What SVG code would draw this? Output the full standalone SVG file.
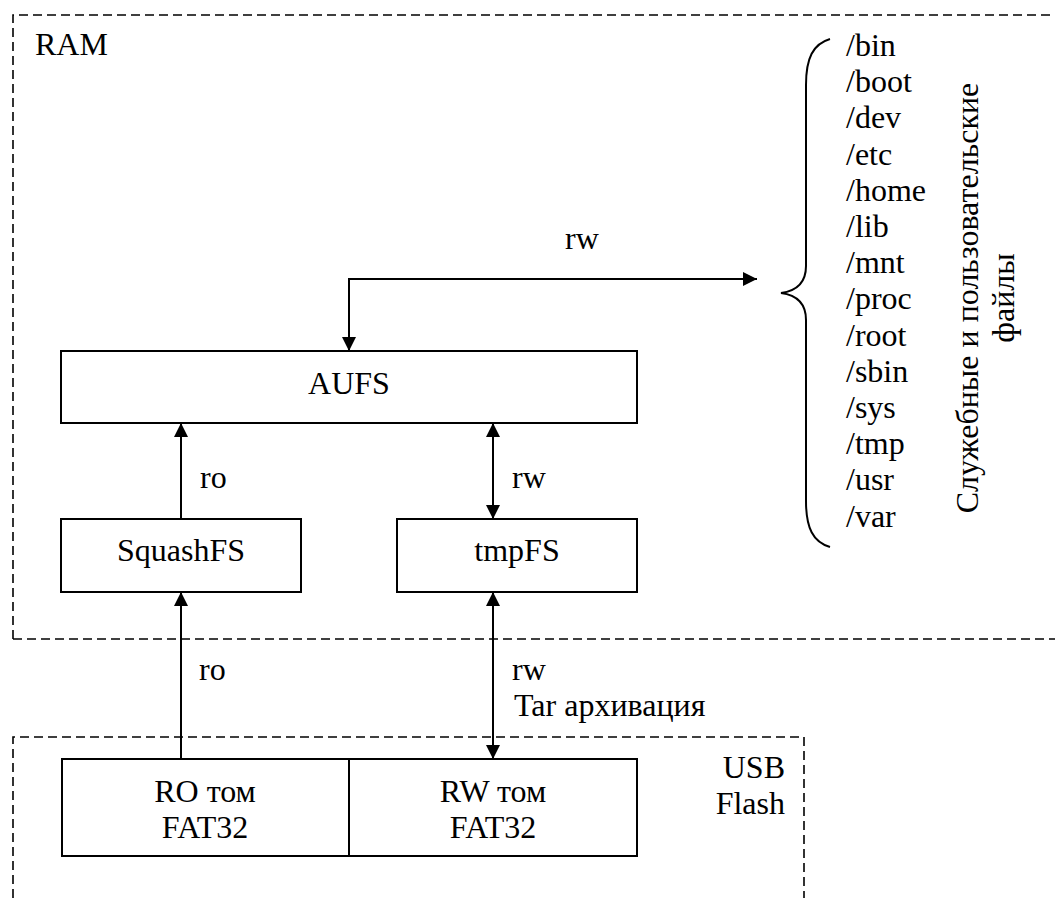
<svg xmlns="http://www.w3.org/2000/svg" width="1055" height="898" viewBox="0 0 1055 898">
<style>
text{font-family:"Liberation Serif","Times New Roman",serif;font-size:32px;fill:#000}
.c{text-anchor:middle}
.r{text-anchor:end}
.box{fill:#fff;stroke:#000;stroke-width:2}
.dash{fill:none;stroke:#000;stroke-width:1.6;stroke-dasharray:9 5}
.ln{fill:none;stroke:#000;stroke-width:2}
</style>
<defs>
<marker id="ah" viewBox="0 0 14 14" refX="14" refY="7" markerWidth="14" markerHeight="14" markerUnits="userSpaceOnUse" orient="auto-start-reverse">
<path d="M0,0 L14,7 L0,14 Z" fill="#000"/>
</marker>
</defs>
<rect width="1055" height="898" fill="#fff"/>
<g id="ram">
<path class="dash" d="M13,639 V15 H1055"/>
<path class="dash" d="M13,639 H1055"/>
<text x="35" y="55">RAM</text>
</g>
<g id="usb">
<path class="dash" d="M13,898 V737 H804 V898"/>
<text class="r" x="785" y="778">USB</text>
<text class="r" x="785" y="814">Flash</text>
</g>
<g id="aufs">
<rect class="box" x="61" y="351" width="576" height="72"/>
<text class="c" x="349" y="394">AUFS</text>
</g>
<g id="squashfs">
<rect class="box" x="61" y="519" width="240" height="73"/>
<text class="c" x="181" y="561">SquashFS</text>
</g>
<g id="tmpfs">
<rect class="box" x="397" y="519" width="240" height="73"/>
<text class="c" x="517" y="561">tmpFS</text>
</g>
<g id="rovol">
<rect class="box" x="62" y="759" width="287" height="97"/>
<text class="c" x="205" y="802">RO том</text>
<text class="c" x="205" y="838">FAT32</text>
</g>
<g id="rwvol">
<rect class="box" x="349" y="759" width="288" height="97"/>
<text class="c" x="493" y="802">RW том</text>
<text class="c" x="493" y="838">FAT32</text>
</g>
<g id="files">
<path class="ln" d="M830,39 C813,44 806,58 806,85 V266 C806,283 796,291 781,293 C796,295 806,303 806,320 V501 C806,528 813,542 830,547"/>
<text x="846" y="56">/bin</text>
<text x="846" y="92">/boot</text>
<text x="846" y="128">/dev</text>
<text x="846" y="165">/etc</text>
<text x="846" y="201">/home</text>
<text x="846" y="237">/lib</text>
<text x="846" y="273">/mnt</text>
<text x="846" y="309">/proc</text>
<text x="846" y="346">/root</text>
<text x="846" y="382">/sbin</text>
<text x="846" y="418">/sys</text>
<text x="846" y="454">/tmp</text>
<text x="846" y="490">/usr</text>
<text x="846" y="527">/var</text>
<text class="c" transform="translate(978,298) rotate(-90)">Служебные и пользовательские</text>
<text class="c" transform="translate(1014,298) rotate(-90)">файлы</text>
</g>
<g id="connectors">
<path class="ln" d="M757,279 H349 V351" marker-end="url(#ah)"/>
<path class="ln" d="M740,279 H757" marker-end="url(#ah)"/>
<path class="ln" d="M181,519 V423" marker-end="url(#ah)"/>
<path class="ln" d="M493,519 V423" marker-start="url(#ah)" marker-end="url(#ah)"/>
<path class="ln" d="M181,759 V592" marker-end="url(#ah)"/>
<path class="ln" d="M493,759 V592" marker-start="url(#ah)" marker-end="url(#ah)"/>
<text x="565" y="249">rw</text>
<text x="200" y="488">ro</text>
<text x="512" y="488">rw</text>
<text x="199" y="680">ro</text>
<text x="512" y="680">rw</text>
<text x="514" y="716">Tar архивация</text>
</g>
</svg>
